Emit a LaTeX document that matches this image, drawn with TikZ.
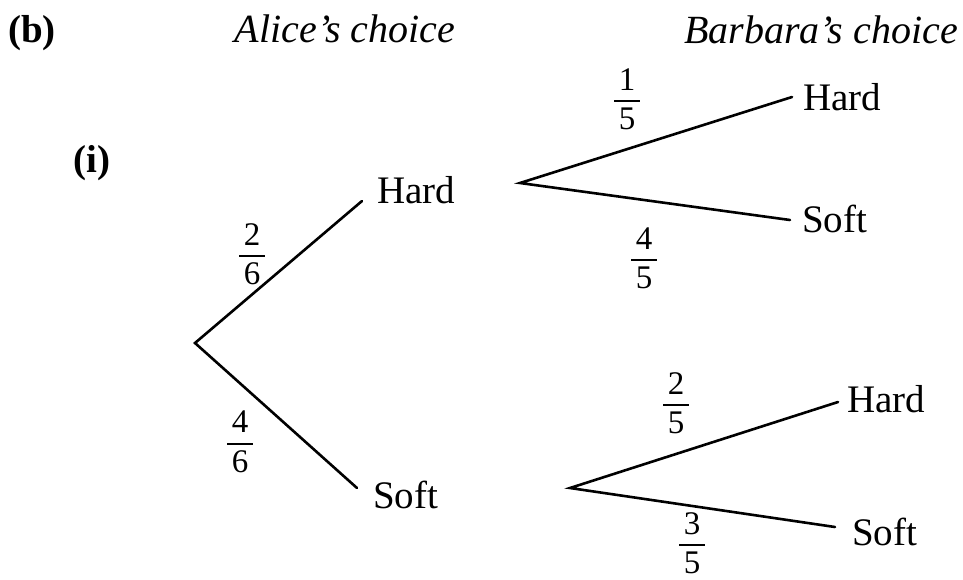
\documentclass[tikz,border=0pt]{standalone}
\usepackage{fontspec}
\usepackage{amsmath}
\setmainfont{Liberation Serif}
\newcommand{\fr}[2]{$\genfrac{}{}{2pt}{0}{\kern4.5pt\text{#1}\kern4.5pt}{\kern4.5pt\text{#2}\kern4.5pt}$}
\begin{document}
\begin{tikzpicture}[x=1pt,y=-1pt,
  lbl/.style={font=\fontsize{39}{44}\selectfont, inner sep=0pt},
  tag/.style={font=\fontsize{39}{44}\selectfont\bfseries, inner sep=0pt},
  hd/.style={font=\fontsize{40}{44}\selectfont\itshape, inner sep=0pt},
  prob/.style={font=\fontsize{33}{36}\selectfont, inner sep=0pt},
  br/.style={line width=2.6pt, line cap=round}]
\useasboundingbox (0,0) rectangle (963,579);
% headings
\node[tag,anchor=base west] (b) at (8,42) {(b)};
\node[tag,anchor=base west] (i) at (73,172) {(i)};
\node[hd,anchor=base] (alice) at (345,42) {Alice's choice};
\node[hd,anchor=base] (barbara) at (821,43) {Barbara's choice};
% branch points and line ends
\coordinate (root) at (195,343);
\coordinate (aHend) at (362,201);
\coordinate (aSend) at (357,488);
\coordinate (bH) at (520,183);
\coordinate (bHHend) at (792,97);
\coordinate (bHSend) at (790,220);
\coordinate (bS) at (570,488);
\coordinate (bSHend) at (838,402);
\coordinate (bSSend) at (835,527);
% outcome labels
\node[lbl,anchor=base west] (aH) at (377,203) {Hard};
\node[lbl,anchor=base west] (aS) at (373,508) {Soft};
\node[lbl,anchor=base west] (bHH) at (803,110) {Hard};
\node[lbl,anchor=base west] (bHS) at (802,232) {Soft};
\node[lbl,anchor=base west] (bSH) at (847,412) {Hard};
\node[lbl,anchor=base west] (bSS) at (852,545) {Soft};
% branches
\draw[br] (aHend) -- (root) -- (aSend);
\draw[br] (bHHend) -- (bH) -- (bHSend);
\draw[br] (bSHend) -- (bS) -- (bSSend);
% probabilities
\node[prob] (p26) at (252,254) {\fr{2}{6}};
\node[prob] (p46) at (240,442) {\fr{4}{6}};
\node[prob] (p15) at (627,99) {\fr{1}{5}};
\node[prob] (p45) at (644,258) {\fr{4}{5}};
\node[prob] (p25) at (676,403) {\fr{2}{5}};
\node[prob] (p35) at (692,543) {\fr{3}{5}};
\end{tikzpicture}
\end{document}
